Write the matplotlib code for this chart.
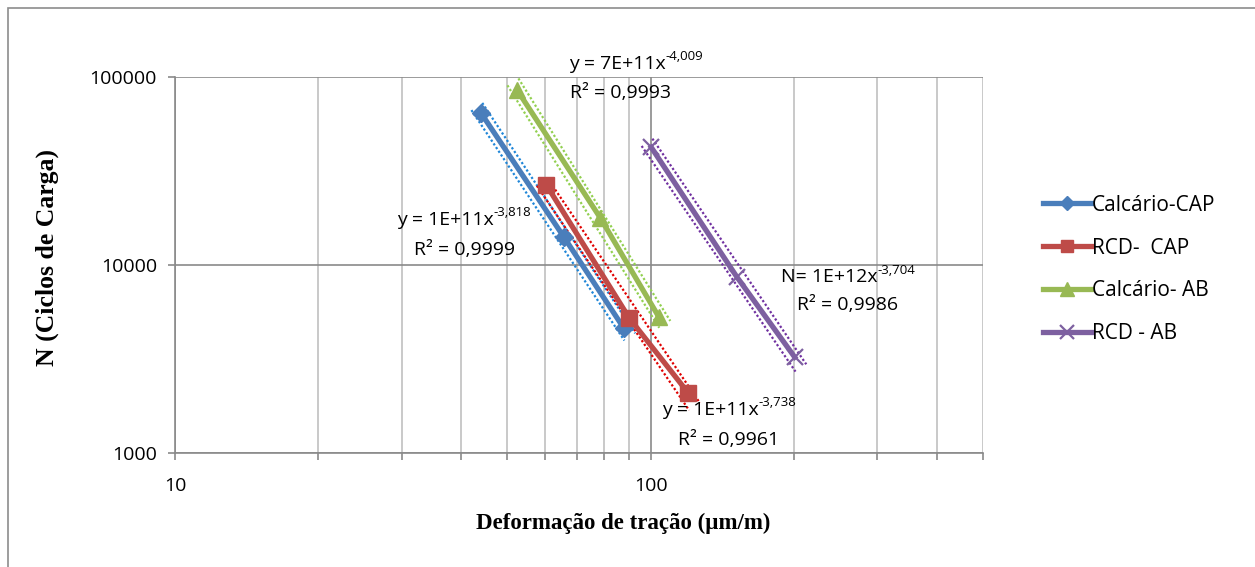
import numpy as np
import matplotlib
matplotlib.use("Agg")
import matplotlib.pyplot as plt
from matplotlib import transforms
from matplotlib.patches import Rectangle
from matplotlib.ticker import FixedLocator, NullFormatter, FixedFormatter

plt.rcParams["font.family"] = ["Open Sans", "DejaVu Sans"]

# Tensile strain (µm/m) vs. number of load cycles N for each mixture
calc_cap_x = [44.0, 65.7, 87.8]
calc_cap_y = [64300, 14100, 4620]
rcd_cap_x = [60.4, 90.2, 120.1]
rcd_cap_y = [26600, 5220, 2080]
calc_ab_x = [52.4, 78.4, 104.0]
calc_ab_y = [85300, 17800, 5310]
rcd_ab_x = [100.3, 151.7, 201.0]
rcd_ab_y = [42300, 8670, 3230]

series_names = ["Calcário-CAP", "RCD-  CAP", "Calcário- AB", "RCD - AB"]
equations = ["y = 1E+11x", "y = 1E+11x", "y = 7E+11x", "N= 1E+12x"]
exponents = ["-3,818", "-3,738", "-4,009", "-3,704"]
r2_labels = ["R² = 0,9999", "R² = 0,9961", "R² = 0,9993", "R² = 0,9986"]

x_ticks = [10, 100]
y_ticks = [1000, 10000, 100000]

W, H, DPI = 1255, 567, 100
fig = plt.figure(figsize=(W / DPI, H / DPI), dpi=DPI)
fig.patch.set_facecolor("white")

# outer chart border
fig.add_artist(Rectangle((8 / W, -0.1), 1.2, 1 - 8 / H + 0.1, transform=fig.transFigure,
                         fill=False, edgecolor="#8c8c8c", linewidth=1.2))

ax_l, ax_r, ax_t, ax_b = 175, 983, 77, 453
ax = fig.add_axes([ax_l / W, 1 - ax_b / H, (ax_r - ax_l) / W, (ax_b - ax_t) / H])
ax.set_xscale("log")
ax.set_yscale("log")
ax.set_xlim(10, 500)
ax.set_ylim(1000, 100000)

grid_dark = "#8a8a8a"
grid_light = "#c0c0c0"
ax.xaxis.set_major_locator(FixedLocator(x_ticks))
ax.xaxis.set_major_formatter(FixedFormatter([str(v) for v in x_ticks]))
minor_x = [v * d for d in (10, 100) for v in range(2, 10) if v * d < 500] + [500]
ax.xaxis.set_minor_locator(FixedLocator(minor_x))
ax.xaxis.set_minor_formatter(NullFormatter())
ax.yaxis.set_major_locator(FixedLocator(y_ticks))
ax.yaxis.set_major_formatter(FixedFormatter([str(v) for v in y_ticks]))
ax.yaxis.set_minor_locator(FixedLocator([]))

ax.grid(True, which="major", axis="both", color=grid_dark, linewidth=1.2)
ax.grid(True, which="minor", axis="x", color=grid_light, linewidth=1.2)
for side in ["top", "right"]:
    ax.spines[side].set_visible(False)
for side in ["left", "bottom"]:
    ax.spines[side].set_color(grid_dark)
    ax.spines[side].set_linewidth(1.2)
ax.tick_params(axis="both", which="both", color=grid_dark, width=1.2, length=5,
               labelsize=14, pad=8)
ax.tick_params(axis="x", which="major", pad=12)

ax.set_xlabel("Deformação de tração (µm/m)", family="Liberation Serif",
              fontweight="bold", fontsize=16.5)
ax.set_ylabel("N (Ciclos de Carga)", family="Liberation Serif",
              fontweight="bold", fontsize=18.5)
ax.xaxis.set_label_coords((623 - ax_l) / (ax_r - ax_l), -(523 - ax_b) / (ax_b - ax_t))
ax.yaxis.set_label_coords(-(ax_l - 47) / (ax_r - ax_l), (ax_b - 257) / (ax_b - ax_t))
ax.xaxis.label.set_va("center")
ax.yaxis.label.set_va("center")

xs = [calc_cap_x, rcd_cap_x, calc_ab_x, rcd_ab_x]
ys = [calc_cap_y, rcd_cap_y, calc_ab_y, rcd_ab_y]
colors = ["#4a7ebb", "#be4b48", "#98b954", "#7d60a0"]
trend_colors = ["#1f86d8", "#e00000", "#92d050", "#7030a0"]
markers = ["D", "s", "^", "x"]
msizes = [9, 11, 12, 12]

# pixels per decade on each axis, for the slope of the trend lines on screen
px_dec_x = (ax_r - ax_l) / np.log10(500 / 10)
px_dec_y = (ax_b - ax_t) / 2.0

handles = []
for x, y, c, tc, m, ms, name in zip(xs, ys, colors, trend_colors, markers, msizes, series_names):
    x = np.asarray(x, float)
    y = np.asarray(y, float)
    # power-law trend line fitted in log space, drawn as a double dotted line
    b, a = np.polyfit(np.log10(x), np.log10(y), 1)
    xf = np.geomspace(x.min() * 0.98, x.max() * 1.03, 50)
    yf = 10 ** (a + b * np.log10(xf))
    s = b * px_dec_y / px_dec_x
    n = np.hypot(1.0, s)
    px, py = -s / n, 1.0 / n
    dist = 6.5 * 72 / DPI
    for sign in (1, -1):
        tr = transforms.offset_copy(ax.transData, fig=fig, x=sign * px * dist,
                                    y=sign * py * dist, units="points")
        ax.plot(xf, yf, color=tc, linestyle=(0, (1, 1)), linewidth=1.6,
                transform=tr, zorder=2)
    mew = 1.6 if m == "x" else 1
    (h,) = ax.plot(x, y, color=c, linewidth=3.8, marker=m, markersize=ms,
                   markeredgecolor=c, markerfacecolor=c, markeredgewidth=mew,
                   zorder=3, label=name)
    handles.append(h)

# trend-line equations with superscript exponents
renderer = fig.canvas.get_renderer()
eq_pos = [(464, 220), (729, 410), (636, 64), (848, 277)]
r2_pos = [(464, 250), (729, 440), (621, 93), (848, 305)]
for eq, ex, r2, (ex_x, ex_y), (rx, ry) in zip(equations, exponents, r2_labels, eq_pos, r2_pos):
    t1 = fig.text(0, 0, eq, ha="left", va="center", fontsize=14)
    t2 = fig.text(0, 0, ex, ha="left", va="center", fontsize=9.5)
    w1 = t1.get_window_extent(renderer).width
    w2 = t2.get_window_extent(renderer).width
    left = ex_x - (w1 + w2) / 2
    t1.set_position((left / W, 1 - ex_y / H))
    t2.set_position(((left + w1) / W, 1 - (ex_y - 7) / H))
    fig.text(rx / W, 1 - ry / H, r2, ha="center", va="center", fontsize=14)

leg = fig.legend(handles=handles, loc="upper left",
                 bbox_to_anchor=(1024 / W, 1 - 176 / H), frameon=False,
                 fontsize=15, handlelength=2.3, handletextpad=0.05,
                 labelspacing=1.05, markerscale=0.8)

fig.savefig("out.png", dpi=DPI, facecolor="white")
